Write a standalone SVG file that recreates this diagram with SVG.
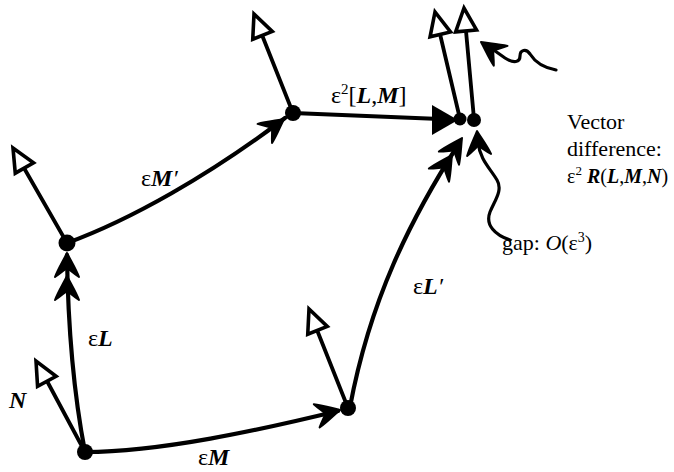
<svg xmlns="http://www.w3.org/2000/svg" width="674" height="472" viewBox="0 0 674 472">
<style>
.ln{fill:none;stroke:#000;stroke-width:4.2;stroke-linecap:round;stroke-linejoin:round}
.vec{fill:none;stroke:#000;stroke-width:3.8;stroke-linecap:round}
.sq{fill:none;stroke:#000;stroke-width:3.2;stroke-linecap:round}
.dot{fill:#000}
.t{font-family:"Liberation Serif","Times New Roman",serif;font-size:24px;fill:#000}
.r{font-size:22px}
.bi{font-weight:bold;font-style:italic}
.it{font-style:italic}
</style>
<defs>
<path id="open" d="M0,0 L-23,-10.5 L-23,10.5 Z" fill="#fff" stroke="#000" stroke-width="3.6" stroke-linejoin="miter"/>
<path id="barb" d="M0,0 C-8,-4 -16,-9 -24,-12 C-20,-6 -16,-2 -15,0 C-16,2 -20,6 -24,12 C-16,9 -8,4 0,0 Z" fill="#000" stroke="#000" stroke-width="2" stroke-linejoin="round"/>
</defs>

<g id="connectors">
  <!-- eps M : A -> B -->
  <path class="ln" d="M85,452 C160,452 260,430 338,411"/>
  <use href="#barb" transform="translate(340,410) rotate(-14)"/>
  <!-- eps L : A -> C -->
  <path class="ln" d="M85,452 C75,400 68,330 67,255"/>
  <use href="#barb" transform="translate(67,253) rotate(-90)"/>
  <use href="#barb" transform="translate(67,276) rotate(-90)"/>
  <!-- eps M' : C -> D -->
  <path class="ln" d="M67,243 C130,220 210,175 285,118"/>
  <use href="#barb" transform="translate(284,119) rotate(-37)"/>
  <!-- eps^2 [L,M] : D -> E -->
  <path class="ln" d="M293,113 L440,119"/>
  <polygon points="432,105 458,120 432,135" fill="#000"/>
  <!-- eps L' : B -> E -->
  <path class="ln" d="M350,407 C370,300 410,220 458,145"/>
  <use href="#barb" transform="translate(462,138) rotate(-57)"/>
  <use href="#barb" transform="translate(452,155) rotate(-57)"/>
  <!-- pointer squiggles -->
  <path class="sq" d="M556,70 C545,68 535,62 530,54 C526,48 520,50 520,56 C520,62 514,64 505,58 L488,46"/>
  <use href="#barb" transform="translate(481,42) rotate(-145)"/>
  <path class="sq" d="M510,240 C495,235 485,225 490,212 C495,200 503,190 497,180 C490,168 480,160 478,142"/>
  <use href="#barb" transform="translate(477,131) rotate(-95)"/>
</g>

<g id="A">
  <line class="vec" x1="85" y1="452" x2="47" y2="381"/>
  <use href="#open" transform="translate(36,361) rotate(-118.1)"/>
  <circle class="dot" cx="85" cy="452" r="8"/>
</g>
<g id="B">
  <line class="vec" x1="348" y1="408" x2="317" y2="330"/>
  <use href="#open" transform="translate(309,309) rotate(-111.7)"/>
  <circle class="dot" cx="348" cy="408" r="8"/>
</g>
<g id="C">
  <line class="vec" x1="67" y1="243" x2="24" y2="168"/>
  <use href="#open" transform="translate(13,148) rotate(-119.7)"/>
  <circle class="dot" cx="67" cy="243" r="8.5"/>
</g>
<g id="D">
  <line class="vec" x1="293" y1="113" x2="262" y2="35"/>
  <use href="#open" transform="translate(254,14) rotate(-111.7)"/>
  <circle class="dot" cx="293" cy="113" r="8"/>
</g>
<g id="E1">
  <line class="vec" x1="460" y1="119" x2="440" y2="34"/>
  <use href="#open" transform="translate(435,12) rotate(-103.3)"/>
  <circle class="dot" cx="460" cy="119" r="6.5"/>
</g>
<g id="E2">
  <line class="vec" x1="474" y1="119" x2="466" y2="31"/>
  <use href="#open" transform="translate(464,8) rotate(-95.2)"/>
  <circle class="dot" cx="474" cy="120" r="7"/>
</g>

<g id="labels">
  <text class="t" x="198" y="465">ε<tspan class="bi">M</tspan></text>
  <text class="t" x="88" y="346">ε<tspan class="bi">L</tspan></text>
  <text class="t" x="9" y="408"><tspan class="bi">N</tspan></text>
  <text class="t" x="141" y="186">ε<tspan class="bi">M</tspan><tspan class="it">′</tspan></text>
  <text class="t" x="413" y="294">ε<tspan class="bi">L</tspan><tspan class="it">′</tspan></text>
  <text class="t" x="331" y="103">ε<tspan font-size="15" dy="-9">2</tspan><tspan dy="9">[</tspan><tspan class="bi">L</tspan>,<tspan class="bi">M</tspan>]</text>
  <text class="t r" x="567" y="129">Vector</text>
  <text class="t r" x="567" y="156">difference:</text>
  <text class="t" font-size="20" x="567" y="183" style="font-size:20px">ε<tspan font-size="13" dy="-8">2</tspan><tspan dy="8"> </tspan><tspan class="bi">R</tspan>(<tspan class="bi">L</tspan>,<tspan class="bi">M</tspan>,<tspan class="bi">N</tspan>)</text>
  <text class="t r" x="502" y="250">gap: <tspan class="it">O</tspan>(ε<tspan font-size="14" dy="-8">3</tspan><tspan dy="8">)</tspan></text>
</g>
</svg>
